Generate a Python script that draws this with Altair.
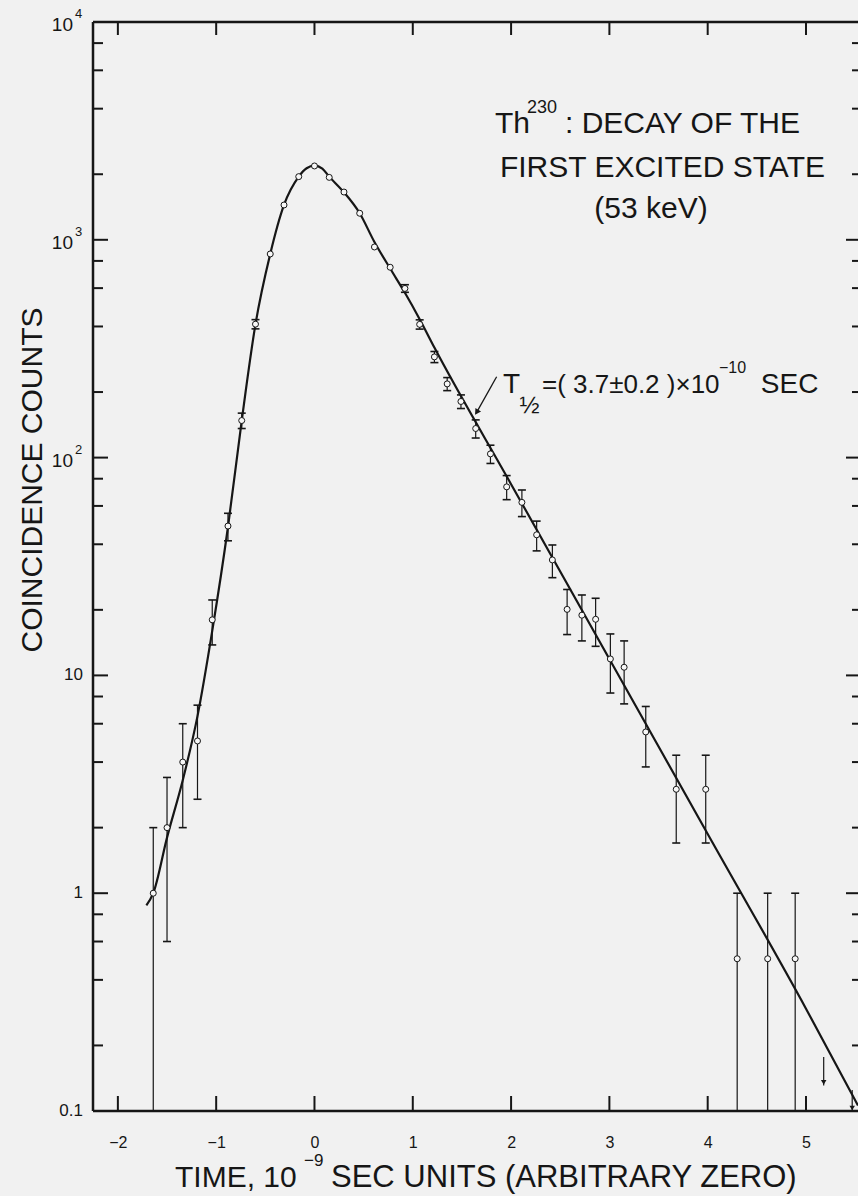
import altair as alt
import pandas as pd
import numpy as np

# ---------------- data ----------------
times = [-1.64, -1.50, -1.34, -1.19, -1.04, -0.88, -0.74, -0.60, -0.45, -0.31,
         -0.16, 0.00, 0.15, 0.30, 0.46, 0.61, 0.77, 0.92, 1.07, 1.22,
         1.35, 1.49, 1.64, 1.79, 1.955, 2.11, 2.26, 2.42, 2.57, 2.72,
         2.86, 3.01, 3.15, 3.37, 3.68, 3.98, 4.30, 4.61, 4.89]
counts = [1.0, 2.0, 4.0, 5.0, 18, 48.5, 148, 410, 861, 1445,
          1950, 2183, 1935, 1657, 1324, 927, 748, 598, 409, 290,
          218, 181, 136, 104, 73.4, 62.3, 44.2, 33.9, 20.1, 18.9,
          18.1, 11.9, 10.9, 5.5, 3.0, 3.0, 0.5, 0.5, 0.5]
# half-length of the visible error bar (0 where the bar is hidden by the circle)
errors = [1.0, 1.4, 2.0, 2.3, 4.2, 7.0, 12, 20, 0, 0,
          0, 0, 0, 0, 0, 0, 0, 24, 20, 17,
          15, 13, 13, 10, 9.3, 8.7, 6.9, 5.8, 4.7, 4.5,
          4.5, 3.6, 3.5, 1.7, 1.3, 1.3, 0.5, 0.5, 0.5]

curve_t = [-1.71, -1.64, -1.50, -1.34, -1.19, -1.04, -0.88, -0.74, -0.60, -0.45,
           -0.31, -0.16, -0.08, 0.00, 0.08, 0.15, 0.30, 0.46, 0.61, 0.77,
           0.92, 1.07, 1.22, 2.00, 3.00, 4.00, 5.00, 5.529]
curve_c = [0.88, 1.0, 1.8, 3.3, 6.5, 16, 48, 148, 410, 861,
           1445, 1950, 2130, 2190, 2120, 1950, 1652, 1324, 977, 738,
           571, 432, 320, 75.5, 11.9, 1.87, 0.295, 0.106]

# upper-limit arrows near the bottom right
limit_t = [5.18, 5.47]
limit_top = [0.177, 0.125]
limit_tip = [0.131, 0.100]

# arrow pointing from the half-life label to the line
arrow_t = [1.853, 1.655]
arrow_c = [235, 163]

x_ticks = [-2, -1, 0, 1, 2, 3, 4, 5]
y_major = [0.1, 1, 10, 100, 1000, 10000]
y_major_base = ["0.1", "1", "10", "10", "10", "10"]
y_major_exp = ["", "", "", "2", "3", "4"]
y_minor = [0.2, 0.4, 0.6, 0.8, 2, 4, 6, 8, 20, 40, 60, 80,
           200, 400, 600, 800, 2000, 4000, 6000, 8000]

# ---------------- styling / layout ----------------
W, H = 765, 1089
FONT = "Liberation Sans"
INK = "#161616"
BG = "#f1f1f1"

xs = alt.Scale(domain=[-2.253, 5.529], nice=False, zero=False)
ys = alt.Scale(type="log", domain=[0.1, 10000], nice=False)
xaxis = alt.Axis(values=x_ticks, format="d", title=None, grid=False, domain=False,
                 ticks=False, tickSize=0, labelPadding=23, labelFont=FONT,
                 labelFontSize=16, labelColor=INK, labelFlush=False)


def X(f):
    return alt.X(f, type="quantitative", scale=xs, axis=xaxis)


def Y(f):
    return alt.Y(f, type="quantitative", scale=ys, axis=None)


one = pd.DataFrame({"k": [0]})

df = pd.DataFrame({"t": times, "c": counts, "e": errors})
df["lo"] = df["c"] - df["e"]
df["lo_clip"] = np.maximum(df["lo"], 0.1)
df["hi"] = df["c"] + df["e"]
df_bar = df[df["e"] > 0]
df_lo = df_bar[df_bar["lo"] > 0.1]

curve = pd.DataFrame({"t": curve_t, "c": curve_c})
lim = pd.DataFrame({"t": limit_t, "top": limit_top, "tip": limit_tip})
arrow = pd.DataFrame({"t": arrow_t, "c": arrow_c})
xt = pd.DataFrame({"t": x_ticks})
ymaj = pd.DataFrame({"c": y_major, "base": y_major_base, "exp": y_major_exp})
ymin = pd.DataFrame({"c": y_minor})

layers = []

# frame (left, top, bottom)
layers.append(alt.Chart(one).mark_rule(color=INK, strokeWidth=2.5).encode(
    x=alt.value(0), y=alt.value(0), y2=alt.value(H)))
layers.append(alt.Chart(one).mark_rule(color=INK, strokeWidth=2.5).encode(
    x=alt.value(0), x2=alt.value(W), y=alt.value(0)))
layers.append(alt.Chart(one).mark_rule(color=INK, strokeWidth=2.5).encode(
    x=alt.value(0), x2=alt.value(W), y=alt.value(H)))

# x ticks (inward, bottom and top)
layers.append(alt.Chart(xt).mark_rule(color=INK, strokeWidth=2).encode(
    x=X("t"), y=alt.value(H - 15), y2=alt.value(H)))
layers.append(alt.Chart(xt).mark_rule(color=INK, strokeWidth=2).encode(
    x=X("t"), y=alt.value(0), y2=alt.value(13)))

# y ticks (inward, left and right)
layers.append(alt.Chart(ymaj).mark_rule(color=INK, strokeWidth=2).encode(
    y=Y("c"), x=alt.value(0), x2=alt.value(15)))
layers.append(alt.Chart(ymin).mark_rule(color=INK, strokeWidth=2).encode(
    y=Y("c"), x=alt.value(0), x2=alt.value(10)))
layers.append(alt.Chart(ymaj).mark_rule(color=INK, strokeWidth=2).encode(
    y=Y("c"), x=alt.value(W - 12), x2=alt.value(W)))
layers.append(alt.Chart(ymin).mark_rule(color=INK, strokeWidth=2).encode(
    y=Y("c"), x=alt.value(W - 6), x2=alt.value(W)))

# y tick labels
layers.append(alt.Chart(ymaj).transform_filter("datum.exp != ''").mark_text(
    align="right", baseline="middle", font=FONT, fontSize=19, color=INK, dy=3).encode(
    y=Y("c"), x=alt.value(-20), text="base:N"))
layers.append(alt.Chart(ymaj).transform_filter("datum.exp != ''").mark_text(
    align="left", baseline="middle", font=FONT, fontSize=13, color=INK, dy=-8).encode(
    y=Y("c"), x=alt.value(-18), text="exp:N"))
layers.append(alt.Chart(ymaj).transform_filter("datum.exp == ''").mark_text(
    align="right", baseline="middle", font=FONT, fontSize=17, color=INK, dy=0).encode(
    y=Y("c"), x=alt.value(-10), text="base:N"))

# fitted curve
layers.append(alt.Chart(curve).mark_line(color=INK, strokeWidth=2.2, interpolate="monotone").encode(
    x=X("t"), y=Y("c")))

# error bars with caps
layers.append(alt.Chart(df_bar).mark_rule(color=INK, strokeWidth=1.2).encode(
    x=X("t"), y=Y("lo_clip"), y2="hi"))
layers.append(alt.Chart(df_bar).mark_rule(color=INK, strokeWidth=1.6, xOffset=-4, x2Offset=4).encode(
    x=X("t"), x2="t", y=Y("hi")))
layers.append(alt.Chart(df_lo).mark_rule(color=INK, strokeWidth=1.6, xOffset=-4, x2Offset=4).encode(
    x=X("t"), x2="t", y=Y("lo")))

# data points (open circles)
layers.append(alt.Chart(df).mark_point(shape="circle", filled=True, fill="#f7f7f7", stroke=INK,
                                       strokeWidth=1, size=36, opacity=1).encode(
    x=X("t"), y=Y("c")))

# upper-limit arrows
layers.append(alt.Chart(lim).mark_rule(color=INK, strokeWidth=1.2).encode(
    x=X("t"), y=Y("top"), y2="tip"))
layers.append(alt.Chart(lim).mark_point(shape="triangle-down", filled=True, color=INK,
                                        size=30, opacity=1, yOffset=-3).encode(
    x=X("t"), y=Y("tip")))

# half-life arrow
layers.append(alt.Chart(arrow).mark_line(color=INK, strokeWidth=1.3).encode(
    x=X("t"), y=Y("c")))
layers.append(alt.Chart(arrow.iloc[[1]]).mark_point(shape="triangle", filled=True, color=INK,
                                                    size=45, opacity=1, angle=213).encode(
    x=X("t"), y=Y("c")))


def txt(s, t, c, size, align="left"):
    d = pd.DataFrame({"t": [t], "c": [c], "s": [s]})
    return alt.Chart(d).mark_text(align=align, baseline="alphabetic", font=FONT,
                                  fontSize=size, color=INK).encode(
        x=X("t"), y=Y("c"), text="s:N")


def ptxt(s, px, py, size, align="left", angle=0):
    d = pd.DataFrame({"s": [s]})
    return alt.Chart(d).mark_text(align=align, baseline="alphabetic", font=FONT,
                                  fontSize=size, color=INK, angle=angle).encode(
        x=alt.value(px), y=alt.value(py), text="s:N")


# title annotation block
layers.append(txt("Th", 1.836, 3093, 30))
layers.append(txt("230", 2.162, 3821, 18))
layers.append(txt(": DECAY OF THE", 2.548, 3093, 30))
layers.append(txt("FIRST EXCITED STATE", 3.540, 1942, 30, "center"))
layers.append(txt("(53 keV)", 3.423, 1259, 30, "center"))

# half-life label
layers.append(txt("T", 1.917, 198, 28))
layers.append(txt("½", 2.085, 160, 24))
layers.append(txt("=( 3.7±0.2 )×10", 2.314, 198, 26))
layers.append(txt("−10", 4.115, 245, 16))
layers.append(txt("SEC", 4.540, 198, 28))

# axis titles
layers.append(ptxt("TIME, 10", 82, 1165, 30))
layers.append(ptxt("−9", 211, 1144, 17))
layers.append(ptxt("SEC UNITS (ARBITRARY ZERO)", 238, 1165, 31))
layers.append(ptxt("COINCIDENCE COUNTS", -51, 458, 30, "center", 270))

chart = alt.layer(*layers).properties(
    width=W, height=H,
    padding={"left": 93, "top": 22, "right": 0, "bottom": 85},
    autosize=alt.AutoSizeParams(type="none"),
    background=BG,
).configure_view(strokeWidth=0)

chart.save("out.html", embed_options={"renderer": "svg", "actions": False})
